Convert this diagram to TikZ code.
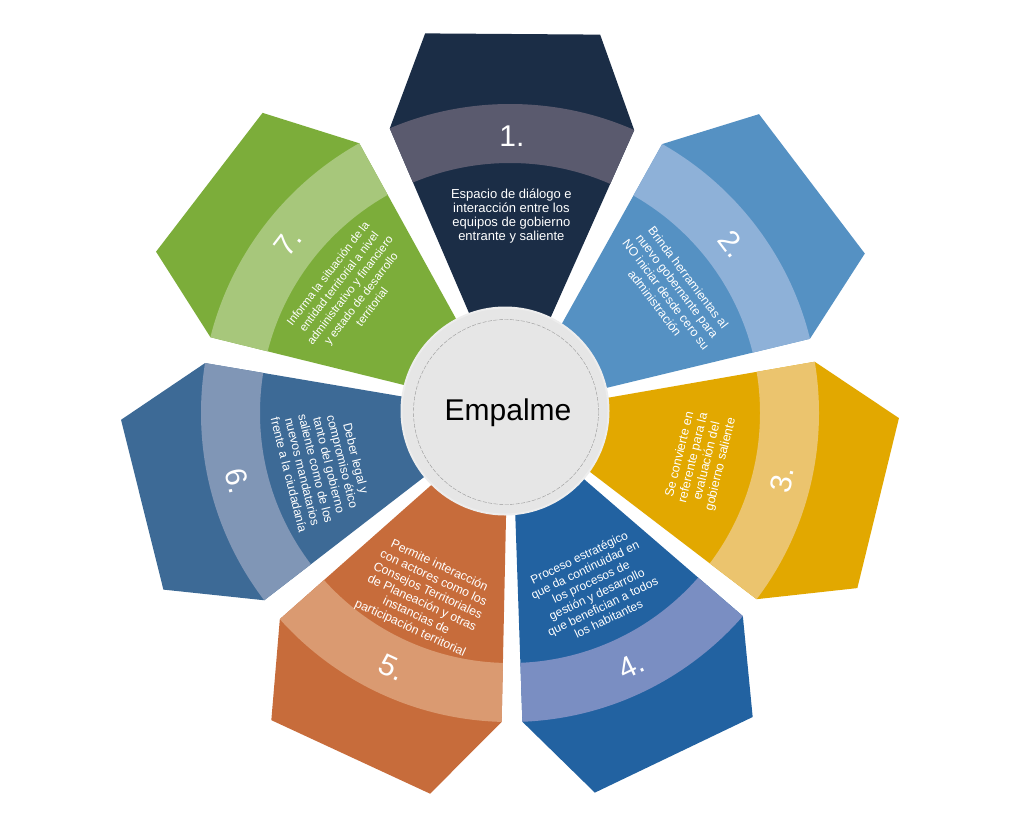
\documentclass[tikz,border=0pt]{standalone}
\usepackage{fontspec}
\setmainfont{Liberation Sans}
\definecolor{pa}{HTML}{1B2D46}\definecolor{pab}{HTML}{5A5A6E}
\definecolor{pb}{HTML}{5591C3}\definecolor{pbb}{HTML}{8EB1D8}
\definecolor{pc}{HTML}{E2A800}\definecolor{pcb}{HTML}{EBC46E}
\definecolor{pd}{HTML}{2262A1}\definecolor{pdb}{HTML}{7A8EC2}
\definecolor{pe}{HTML}{C76C3B}\definecolor{peb}{HTML}{DA9A71}
\definecolor{pf}{HTML}{3D6A96}\definecolor{pfb}{HTML}{8096B6}
\definecolor{pg}{HTML}{7CAD3A}\definecolor{pgb}{HTML}{A7C77B}
\definecolor{cgray}{HTML}{E6E6E6}
\newcommand\drawpetal[3]{%
  \fill[#2] (#1-22.5:90) -- (#1-23.3:309) -- (#1-13:389) -- (#1+13:389) -- (#1+23.3:309) -- (#1+22.5:90) -- cycle;
  \begin{scope}
    \clip (#1-22.5:90) -- (#1-23.3:309) -- (#1-13:389) -- (#1+13:389) -- (#1+23.3:309) -- (#1+22.5:90) -- cycle;
    \fill[#3, even odd rule] (0,0) circle[radius=309] (0,0) circle[radius=250];
  \end{scope}}
\tikzset{
  txt/.style={text=white, align=center, inner sep=0pt},
  num/.style={text=white, inner sep=0pt, font=\fontsize{30}{30}\selectfont}
}
\begin{document}
\begin{tikzpicture}[x=1pt,y=1pt]
\useasboundingbox (0,0) rectangle (1020,-815);
\fill[white] (0,0) rectangle (1020,-815);
\begin{scope}[shift={(510,-413)}]
  \drawpetal{89.6}{pa}{pab}
  \drawpetal{37.2}{pb}{pbb}
  \drawpetal{-13.75}{pc}{pcb}
  \drawpetal{-64.4}{pd}{pdb}
  \drawpetal{-114.85}{pe}{peb}
  \drawpetal{194}{pf}{pfb}
  \drawpetal{142.5}{pg}{pgb}
  % numbers
  \node[num] (n1) at (89.6:277) {1.};
  \node[num, rotate=-52.8] (n2) at (37.2:279) {2.};
  \node[num, rotate=76.25] (n3) at (-13.75:280) {3.};
  \node[num, rotate=25.6] (n4) at (-64.4:280) {4.};
  \node[num, rotate=-24.85] (n5) at (-114.85:280) {5.};
  \node[num, rotate=-76] (n6) at (194:281) {6.};
  \node[num, rotate=52.5] (n7) at (142.5:280) {7.};
  % texts
  \node[txt, font=\fontsize{13}{13.9}\selectfont] (t1) at (89.6:197)
    {Espacio de diálogo e\\interacción entre los\\equipos de gobierno\\entrante y saliente};
  \node[txt, rotate=-52.8, font=\fontsize{12.3}{14}\selectfont] (t2) at (37.2:203)
    {Brinda herramientas al\\nuevo gobernante para\\NO iniciar desde cero su\\administración};
  \node[txt, rotate=76.25, font=\fontsize{12.5}{14}\selectfont] (t3) at (-13.75:196)
    {Se convierte en\\referente para la\\evaluación del\\gobierno saliente};
  \node[txt, rotate=25.6, font=\fontsize{12}{13.6}\selectfont] (t4) at (-64.4:194)
    {Proceso estratégico\\que da continuidad en\\los procesos de\\gestión y desarrollo\\que benefician a todos\\los habitantes};
  \node[txt, rotate=-24.85, font=\fontsize{12.3}{13.8}\selectfont] (t5) at (-114.85:203)
    {Permite interacción\\con actores como los\\Consejos Territoriales\\de Planeación y otras\\instancias de\\participación territorial};
  \node[txt, rotate=-76, font=\fontsize{12.3}{13.8}\selectfont] (t6) at (196:195)
    {Deber legal y\\compromiso ético\\tanto del gobierno\\saliente como de los\\nuevos mandatarios\\frente a la ciudadanía};
  \node[txt, rotate=52.5, font=\fontsize{11.5}{13.8}\selectfont] (t7) at (142.5:202)
    {Informa la situación de la\\entidad territorial a nivel\\administrativo y financiero\\y estado de desarrollo\\territorial};
\end{scope}
% centre
\filldraw[fill=cgray, draw=white!93!black, line width=2pt] (505,-411) circle[radius=103.5];
\draw[gray!80, line width=0.4pt, dash pattern=on 4pt off 1.5pt] (506,-412) circle[radius=92.5];
\node[anchor=base, inner sep=0pt, font=\fontsize{30}{30}\selectfont] (emp) at (508,-420) {Empalme};
\end{tikzpicture}
\end{document}
